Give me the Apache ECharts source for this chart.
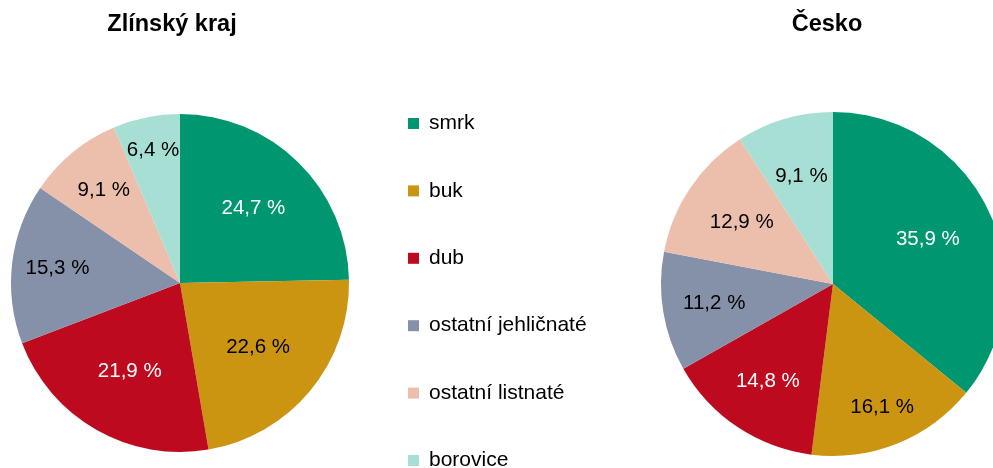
<!DOCTYPE html>
<html>
<head>
<meta charset="utf-8">
<script src="https://cdn.jsdelivr.net/npm/echarts@6/dist/echarts.min.js"></script>
<style>
  html, body { margin: 0; padding: 0; background: #fff; }
  #main { width: 993px; height: 468px; }
</style>
</head>
<body>
<div id="main"></div>
<script>
// druhy dřevin
const categories = ['smrk', 'buk', 'dub', 'ostatní jehličnaté', 'ostatní listnaté', 'borovice'];
const zlinValues = [24.7, 22.6, 21.9, 15.3, 9.1, 6.4];
const ceskoValues = [35.9, 16.1, 14.8, 11.2, 12.9, 9.1];
const titles = ['Zlínský kraj', 'Česko'];

const colors = ['#009670', '#CC9511', '#BE0A1E', '#8591A8', '#ECBFAD', '#A8DFD5'];
const labelColors = ['#fff', '#000', '#fff', '#000', '#000', '#000'];
// jak daleko od středu leží popisky (podíl poloměru), jako v Excelu
const labelRatio = [
  [0.62, 0.60, 0.60, 0.73, 0.71, 0.80],
  [0.61, 0.77, 0.68, 0.70, 0.64, 0.65]
];

const pies = [
  { center: [180, 283], r: 169 },
  { center: [833, 284], r: 172 }
];

const FONT = 'Liberation Sans, Arial, sans-serif';

const myChart = echarts.init(document.getElementById('main'));

function makeSeries(idx, values) {
  const p = pies[idx];
  return {
    name: titles[idx],
    type: 'pie',
    center: p.center,
    radius: [0, p.r],
    startAngle: 90,
    clockwise: true,
    silent: true,
    animation: false,
    data: categories.map((c, i) => ({
      name: c,
      value: values[i],
      itemStyle: { color: colors[i] },
      label: { color: labelColors[i] }
    })),
    itemStyle: { borderWidth: 0 },
    label: {
      show: true,
      position: 'inside',
      fontFamily: FONT,
      fontSize: 20.5,
      formatter: params => params.value.toFixed(1).replace('.', ',') + ' %'
    },
    labelLine: { show: false },
    labelLayout: function (params) {
      const lr = params.labelRect;
      const lx = lr.x + lr.width / 2;
      const ly = lr.y + lr.height / 2;
      const a = Math.atan2(ly - p.center[1], lx - p.center[0]);
      const d = labelRatio[idx][params.dataIndex] * p.r;
      return {
        x: p.center[0] + Math.cos(a) * d,
        y: p.center[1] + Math.sin(a) * d,
        align: 'center',
        verticalAlign: 'middle'
      };
    }
  };
}

const titleStyle = { fontFamily: FONT, fontSize: 23.5, fontWeight: 'bold', color: '#000' };

const option = {
  backgroundColor: '#fff',
  title: [
    { text: titles[0], left: 167, top: 8, textAlign: 'center', textStyle: titleStyle },
    { text: titles[1], left: 822, top: 8, textAlign: 'center', textStyle: titleStyle }
  ],
  legend: {
    orient: 'vertical',
    left: 408,
    top: 113,
    height: 360,
    padding: 0,
    itemWidth: 11,
    itemHeight: 11,
    itemGap: 46.4,
    icon: 'rect',
    selectedMode: false,
    data: categories,
    textStyle: {
      fontFamily: FONT,
      fontSize: 21,
      color: '#000',
      padding: [0, 0, 0, 5],
      lineHeight: 21
    }
  },
  series: [makeSeries(0, zlinValues), makeSeries(1, ceskoValues)]
};

myChart.setOption(option);
</script>
</body>
</html>
